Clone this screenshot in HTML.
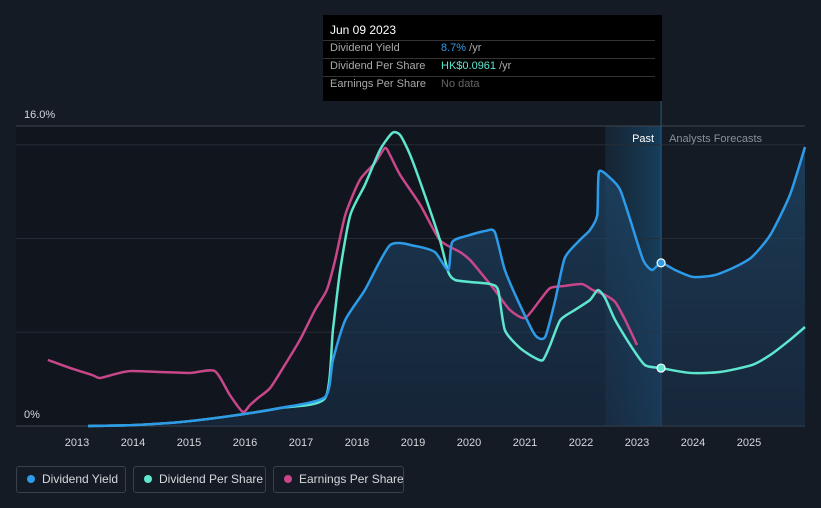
<!DOCTYPE html>
<html><head><meta charset="utf-8"><style>
body{margin:0;background:#151b24;font-family:"Liberation Sans",sans-serif;}
#wrap{position:relative;width:821px;height:508px;overflow:hidden;background:#151b24;}
.tt{position:absolute;left:323px;top:15px;width:339px;height:86px;background:#000;color:#fff;font-size:11px;}
.tt .r{position:absolute;left:7px;}
.leg{position:absolute;top:466px;height:27px;border:1px solid #3a404a;border-radius:3px;color:#d5d8dc;font-size:12px;line-height:25px;box-sizing:border-box;white-space:nowrap;overflow:hidden;}
.leg i{display:inline-block;width:8px;height:8px;border-radius:50%;margin:0 7px 0 10px;vertical-align:middle;position:relative;top:-1px}
</style></head><body>
<div id="wrap">
<svg id="svg" width="821" height="508" style="position:absolute;left:0;top:0"></svg>
<div class="tt">
 <div class="r" style="top:8px;font-size:12px">Jun 09 2023</div>
 <div style="position:absolute;left:0;right:7px;top:25px;border-top:1px solid #333"></div>
 <div class="r" style="top:27px;color:#aaa">Dividend Yield</div>
 <div style="position:absolute;left:118px;top:27px;color:#aaa"><span style="color:#2d9be8">8.7%</span> /yr</div>
 <div style="position:absolute;left:0;right:7px;top:43px;border-top:1px solid #333"></div>
 <div class="r" style="top:45px;color:#aaa">Dividend Per Share</div>
 <div style="position:absolute;left:118px;top:45px;color:#aaa"><span style="color:#5ee6cf">HK$0.0961</span> /yr</div>
 <div style="position:absolute;left:0;right:7px;top:61px;border-top:1px solid #333"></div>
 <div class="r" style="top:63px;color:#aaa">Earnings Per Share</div>
 <div style="position:absolute;left:118px;top:63px;color:#666">No data</div>
</div>
<div class="leg" style="left:16px;width:110px"><i style="background:#2d9be8"></i>Dividend Yield</div>
<div class="leg" style="left:133px;width:133px"><i style="background:#5ee6cf"></i>Dividend Per Share</div>
<div class="leg" style="left:273px;width:131px"><i style="background:#c8468a"></i>Earnings Per Share</div>
</div>
<script>
const yieldYears=[2013.2,2014,2014.84,2015.73,2016.63,2017.43,2017.57,2017.79,2018.14,2018.59,2019.04,2019.39,2019.63,2019.70,2020.02,2020.29,2020.46,2020.64,2020.91,2021.18,2021.36,2021.54,2021.71,2021.98,2022.16,2022.29,2022.32,2022.52,2022.70,2022.88,2023.11,2023.27,2023.43,2023.68,2024.0,2024.39,2024.75,2025.05,2025.38,2025.73,2026.0];
const yieldValues=[0,0.05,0.21,0.53,0.96,1.55,3.52,5.65,7.25,9.65,9.6,9.28,8.32,9.81,10.19,10.4,10.35,8.32,6.45,4.85,4.75,6.72,8.96,9.92,10.45,11.25,13.55,13.23,12.59,10.99,8.85,8.32,8.7,8.32,7.95,8.05,8.48,9.01,10.19,12.32,14.88];
const dpsYears=[2013.2,2014,2014.84,2015.73,2016.63,2017.43,2017.57,2017.7,2017.88,2018.14,2018.41,2018.63,2018.77,2018.95,2019.21,2019.48,2019.63,2019.75,2020.02,2020.38,2020.52,2020.64,2020.91,2021.18,2021.32,2021.45,2021.63,2021.89,2022.16,2022.3,2022.43,2022.61,2022.88,2023.14,2023.43,2023.95,2024.48,2025.05,2025.38,2025.73,2026];
const dpsValues=[0,0.05,0.21,0.53,0.96,1.49,5.12,8.32,11.25,12.85,14.72,15.63,15.52,14.45,12.32,9.92,8.21,7.79,7.68,7.57,7.25,5.12,4.16,3.63,3.52,4.32,5.65,6.19,6.72,7.25,6.83,5.65,4.32,3.25,3.09,2.83,2.88,3.25,3.79,4.59,5.28];
const epsYears=[2012.48,2012.88,2013.27,2013.41,2013.68,2013.95,2014.48,2015.02,2015.46,2015.73,2015.96,2016.09,2016.23,2016.45,2016.71,2016.98,2017.25,2017.46,2017.61,2017.79,2018.05,2018.32,2018.5,2018.59,2018.77,2019.13,2019.48,2019.84,2020.02,2020.2,2020.46,2020.73,2021,2021.27,2021.45,2021.71,2022.02,2022.21,2022.43,2022.61,2022.79,2023];
const epsValues=[3.52,3.09,2.72,2.56,2.77,2.93,2.88,2.83,2.93,1.65,0.75,1.12,1.49,2.03,3.25,4.59,6.19,7.25,8.85,11.25,13.12,14.03,14.83,14.45,13.39,11.79,9.92,9.28,8.85,8.21,7.25,6.19,5.76,6.72,7.36,7.47,7.57,7.25,6.99,6.61,5.65,4.32];
const xTicks=[2013,2014,2015,2016,2017,2018,2019,2020,2021,2022,2023,2024,2025];
const nowYear=2023.43, pastStart=2022.43;
const X=y=>77+(y-2013)*56, Y=v=>426-v*18.75;
const NS='http://www.w3.org/2000/svg', svg=document.getElementById('svg');
function mk(t,a){const e=document.createElementNS(NS,t);for(const k in a)e.setAttribute(k,a[k]);svg.appendChild(e);return e;}
function path(xs,vs){const p=xs.map((x,i)=>[X(x),Y(vs[i])]);let d='M'+p[0][0]+','+p[0][1];const k=9;
 for(let i=0;i<p.length-1;i++){const p0=p[i-1]||p[i],p1=p[i],p2=p[i+1],p3=p[i+2]||p2;
 d+=' C'+(p1[0]+(p2[0]-p0[0])/k)+','+(p1[1]+(p2[1]-p0[1])/k)+' '+(p2[0]-(p3[0]-p1[0])/k)+','+(p2[1]-(p3[1]-p1[1])/k)+' '+p2[0]+','+p2[1];}return d;}
const defs=mk('defs',{});
defs.innerHTML='<linearGradient id="fg" x1="0" y1="0" x2="0" y2="1"><stop offset="0" stop-color="#1f4a6e" stop-opacity="0.7"/><stop offset="1" stop-color="#1a3350" stop-opacity="0.5"/></linearGradient><linearGradient id="pg" x1="0" y1="0" x2="1" y2="0"><stop offset="0" stop-color="#1a5a88" stop-opacity="0.15"/><stop offset="1" stop-color="#1a6aa0" stop-opacity="0.45"/></linearGradient>';
let r=mk('rect',{x:16,y:126,width:X(pastStart)-16,height:300,fill:'#11161e'});
r=mk('rect',{x:X(pastStart),y:126,width:X(nowYear)-X(pastStart),height:300,fill:'url(#pg)'});
[0,5,10,15].forEach(v=>{const l=mk('line',{x1:16,x2:805,y1:Y(v),y2:Y(v),stroke:v?'#262c36':'#3f4650','stroke-width':1});});
let l=mk('line',{x1:16,x2:805,y1:126,y2:126,stroke:'#3f4650'});
l=mk('line',{x1:X(nowYear),x2:X(nowYear),y1:101,y2:426,stroke:'#2a5a80'});
const yp=path(yieldYears,yieldValues);
let a=mk('path',{d:yp+' L'+X(yieldYears[yieldYears.length-1])+',426 L'+X(yieldYears[0])+',426 Z',fill:'url(#fg)'});
a=mk('path',{d:path(epsYears,epsValues),fill:'none',stroke:'#c8468a','stroke-width':2.5});
a=mk('path',{d:path(dpsYears,dpsValues),fill:'none',stroke:'#5ee6cf','stroke-width':2.5});
a=mk('path',{d:yp,fill:'none',stroke:'#2d9be8','stroke-width':2.5});
let c=mk('circle',{cx:X(nowYear),cy:Y(yieldValues[yieldYears.indexOf(nowYear)]),r:4,fill:'#2d9be8',stroke:'#fff','stroke-width':1.2});
c=mk('circle',{cx:X(nowYear),cy:Y(dpsValues[dpsYears.indexOf(nowYear)]),r:4,fill:'#5ee6cf',stroke:'#fff','stroke-width':1.2});
function txt(x,y,s,fill,size,anchor,name){const t=mk('text',{x:x,y:y,fill:fill,'font-size':size,'text-anchor':anchor||'start','font-family':'Liberation Sans, sans-serif'});t.textContent=s;return t;}
txt(24,118,'16.0%','#d5d8dc',11,'start','y-label-top');
txt(24,418,'0%','#d5d8dc',11,'start','y-label-zero');
txt(X(nowYear)-7,142,'Past','#fff',11,'end','past-label');
txt(X(nowYear)+8,142,'Analysts Forecasts','#8a9099',11,'start','forecast-label');
xTicks.forEach(y=>{txt(X(y),446,String(y),'#d5d8dc',11,'middle','x-tick-label');});
</script>
</body></html>
